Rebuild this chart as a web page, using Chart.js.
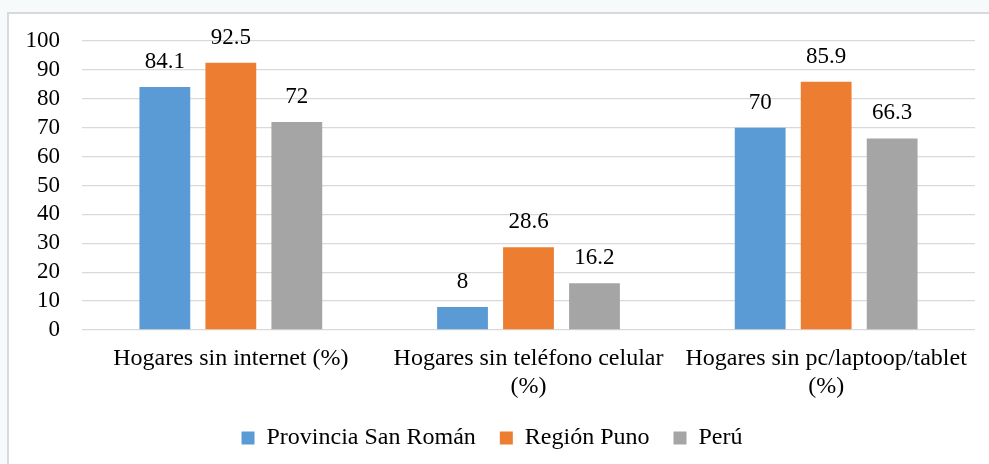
<!DOCTYPE html>
<html>
<head>
<meta charset="utf-8">
<script src="https://cdn.jsdelivr.net/npm/chart.js@4"></script>
<style>
    html, body { margin: 0; padding: 0; background: #f6fafb; overflow: hidden; }
    .chart-box {
        position: absolute;
        left: 7px;
        top: 12px;
        width: 982px;
        height: 470px;
        background: #fff;
        border-left: 2px solid #d9d9d9;
        border-top: 2px solid #d9d9d9;
    }
</style>
</head>
<body>
<div class="chart-box"><canvas id="hogares-bar-chart" width="982" height="470"></canvas></div>
<script>
const categories = [
    'Hogares sin internet (%)',
    ['Hogares sin teléfono celular', '(%)'],
    ['Hogares sin pc/laptoop/tablet', '(%)']
]
const seriesNames = ['Provincia San Román', 'Región Puno', 'Perú']
const sanRomanValues = [84.1, 8, 70]
const punoValues = [92.5, 28.6, 85.9]
const peruValues = [72, 16.2, 66.3]
const colors = ['#5b9bd5', '#ed7d31', '#a5a5a5']

const fontFamily = '"Liberation Serif", "Times New Roman", serif'

// etiquetas de valor encima de cada barra
const barLabels = {
    id: 'barLabels',
    afterDatasetsDraw: chart => {
        const ctx = chart.ctx
        ctx.save()
        ctx.font = `23px ${fontFamily}`
        ctx.fillStyle = '#000'
        ctx.textAlign = 'center'
        ctx.textBaseline = 'middle'
        chart.data.datasets.forEach((ds, i) => {
            chart.getDatasetMeta(i).data.forEach((bar, j) => {
                ctx.fillText(String(ds.data[j]), bar.x, bar.y - 25)
            })
        })
        ctx.restore()
    }
}

const datasets = [sanRomanValues, punoValues, peruValues].map((values, i) => ({
    label: seriesNames[i],
    data: values,
    backgroundColor: colors[i],
    borderWidth: 0,
    barPercentage: 0.77,
    categoryPercentage: 0.665
}))

new Chart(document.querySelector('#hogares-bar-chart'), {
    type: 'bar',
    data: { labels: categories, datasets },
    plugins: [barLabels],
    options: {
        responsive: false,
        animation: false,
        layout: { padding: { top: 27, right: 16, bottom: 24, left: 0 } },
        plugins: {
            legend: {
                position: 'bottom',
                labels: {
                    boxWidth: 13,
                    boxHeight: 13,
                    padding: 24,
                    color: '#000',
                    font: { family: fontFamily, size: 24 }
                }
            },
            tooltip: { enabled: false }
        },
        scales: {
            x: {
                grid: { display: false },
                border: { display: false },
                ticks: {
                    color: '#000',
                    padding: 6,
                    maxRotation: 0,
                    autoSkip: false,
                    font: { family: fontFamily, size: 24 }
                },
                afterFit: scale => { scale.height = 72 }
            },
            y: {
                min: 0,
                max: 100,
                grid: { color: '#d9d9d9', lineWidth: 1.3, drawTicks: false },
                border: { display: false },
                ticks: {
                    stepSize: 10,
                    autoSkip: false,
                    color: '#000',
                    padding: 22,
                    font: { family: fontFamily, size: 23 }
                },
                afterFit: scale => {
                    scale.width = 73
                    scale.paddingTop = 0
                    scale.paddingBottom = 0
                }
            }
        }
    }
})
</script>
</body>
</html>
